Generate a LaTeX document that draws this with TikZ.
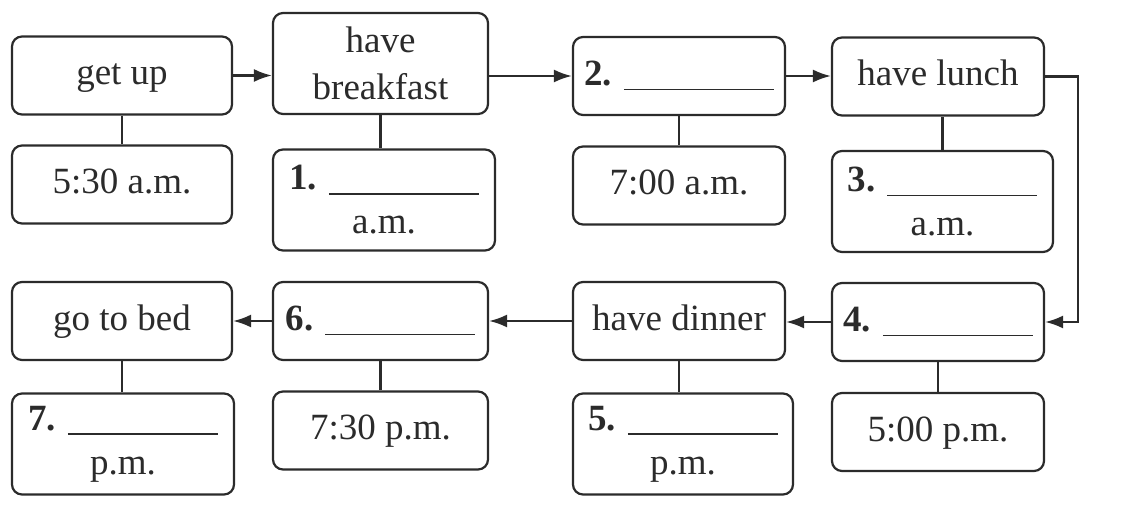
\documentclass[tikz,border=0pt]{standalone}
\usepackage{fontspec}
\setmainfont{Liberation Serif}
\usetikzlibrary{arrows.meta}
\definecolor{ink}{HTML}{2B2B2B}
\newcommand{\answerline}{\rule[-2.5pt]{75pt}{0.9pt}}

\begin{document}
\begin{tikzpicture}[x=0.5pt,y=-0.5pt,
  box/.style={draw=ink, line width=1.1pt, rounded corners=5pt, align=center,
    inner sep=0pt, text=ink, minimum width=#1, minimum height=39pt,
    text height=13pt, text depth=3.5pt,
    font=\fontsize{18.5}{22}\selectfont},
  box/.default=106pt,
  tall/.style={minimum height=50.5pt, text height=, text depth=},
  link/.style={draw=ink, line width=1.1pt},
  flow/.style={link, -{Latex[length=9pt,width=6.5pt]}}]
\useasboundingbox (0,0) rectangle (1126,507);
% morning
\node[box=110pt] (getup) at (122,75.5) {get up};
\node[box=107.5pt, tall, font=\fontsize{18.5}{23.5}\selectfont] (breakfast) at (380.5,63.5) {have\\breakfast};
\node[box] (blank2) at (679,76) {\textbf{2.}\hspace{6pt}\answerline};
\node[box] (lunch) at (938,76.5) {have lunch};
\node[box=110pt] (t530) at (122,184.5) {5:30 a.m.};
\node[box=111pt, tall] (blank1) at (384,200) {\textbf{1.}\hspace{6pt}\answerline\\a.m.};
\node[box] (t700) at (679,185.5) {7:00 a.m.};
\node[box=110.5pt, tall] (blank3) at (942.5,201.5) {\textbf{3.}\hspace{6pt}\answerline\\a.m.};
% evening
\node[box=110pt] (bed) at (122,321) {go to bed};
\node[box=107.5pt] (blank6) at (380.5,321) {\textbf{6.}\hspace{6pt}\answerline};
\node[box] (dinner) at (679,321) {have dinner};
\node[box] (blank4) at (938,322) {\textbf{4.}\hspace{6pt}\answerline};
\node[box=111pt, tall] (blank7) at (123,444) {\textbf{7.}\hspace{6pt}\answerline\\p.m.};
\node[box=107.5pt] (t730) at (380.5,430.5) {7:30 p.m.};
\node[box=110pt, tall] (blank5) at (683,444) {\textbf{5.}\hspace{6pt}\answerline\\p.m.};
\node[box] (t500) at (938,432) {5:00 p.m.};
% time links
\draw[link] (getup.south) -- (getup.south |- t530.north);
\draw[link] (breakfast.south) -- (breakfast.south |- blank1.north);
\draw[link] (blank2.south) -- (blank2.south |- t700.north);
\draw[link] (blank3.north) -- (blank3.north |- lunch.south);
\draw[link] (bed.south) -- (bed.south |- blank7.north);
\draw[link] (blank6.south) -- (blank6.south |- t730.north);
\draw[link] (dinner.south) -- (dinner.south |- blank5.north);
\draw[link] (blank4.south) -- (blank4.south |- t500.north);
% order of the day
\draw[flow] (getup.east) -- (getup.east -| breakfast.west);
\draw[flow] (breakfast.east |- blank2.west) -- (blank2.west);
\draw[flow] (blank2.east) -- (blank2.east -| lunch.west);
\draw[flow] (lunch.east) -- ++(33,0) |- (blank4.east);
\draw[flow] (blank4.west) -- (blank4.west -| dinner.east);
\draw[flow] (dinner.west) -- (dinner.west -| blank6.east);
\draw[flow] (blank6.west) -- (blank6.west -| bed.east);
\end{tikzpicture}
\end{document}
